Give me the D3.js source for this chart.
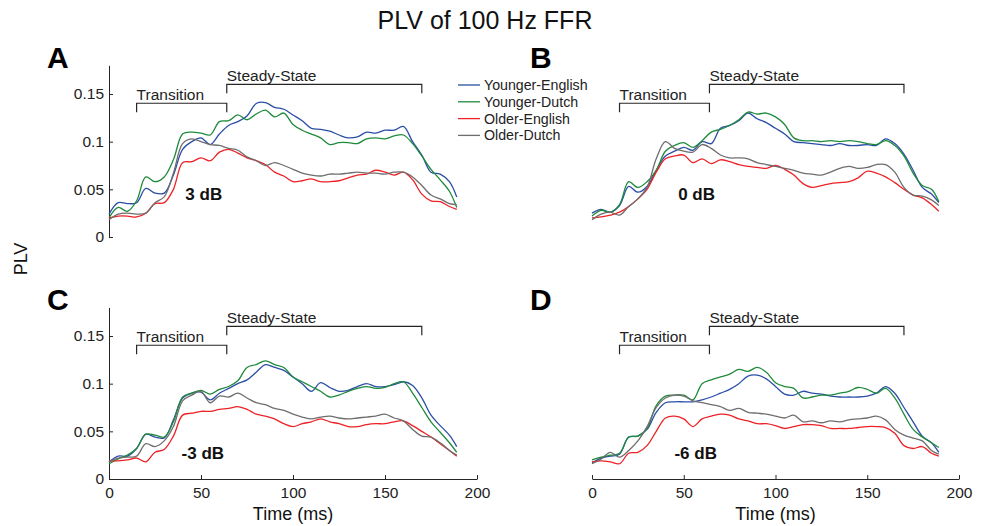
<!DOCTYPE html>
<html>
<head>
<meta charset="utf-8">
<script src="https://cdn.jsdelivr.net/npm/d3@7"></script>
<style>
  body { margin: 0; background: #fff; }
  svg { display: block; font-family: "Liberation Sans", Arial, Helvetica, sans-serif; }
</style>
</head>
<body>
<svg id="chart" width="985" height="526"></svg>
<script>
const time = [0, 5, 10, 15, 20, 25, 30, 35, 40, 45, 50, 55, 60, 65, 70, 75, 80, 85, 90, 95,
  100, 105, 110, 115, 120, 125, 130, 135, 140, 145, 150, 155, 160, 165, 170, 175, 180, 185, 189];

const groups = ['Younger-English', 'Younger-Dutch', 'Older-English', 'Older-Dutch'];
const groupColors = ['#2b4ea6', '#1f8a3c', '#ec2227', '#6e6e6e'];

const xTicks = [0, 50, 100, 150, 200];
const yTicks = [0, 0.05, 0.1, 0.15];

// 3 dB
const a_youngerEnglish = [0.024,0.036,0.035,0.036,0.051,0.046,0.046,0.065,0.092,0.100,0.104,0.097,0.108,0.117,0.121,0.127,0.140,0.141,0.136,0.134,0.128,0.122,0.114,0.113,0.111,0.107,0.104,0.105,0.110,0.109,0.112,0.112,0.116,0.100,0.086,0.068,0.066,0.058,0.042];
const a_youngerDutch = [0.020,0.031,0.027,0.038,0.063,0.058,0.063,0.081,0.108,0.110,0.109,0.107,0.121,0.122,0.128,0.123,0.129,0.133,0.126,0.130,0.118,0.112,0.108,0.104,0.097,0.099,0.099,0.098,0.103,0.104,0.103,0.106,0.107,0.098,0.085,0.071,0.060,0.048,0.031];
const a_olderEnglish = [0.020,0.022,0.022,0.021,0.025,0.035,0.036,0.050,0.078,0.079,0.083,0.080,0.089,0.092,0.088,0.083,0.080,0.076,0.068,0.064,0.058,0.059,0.061,0.058,0.058,0.059,0.062,0.065,0.066,0.070,0.068,0.065,0.068,0.060,0.045,0.038,0.037,0.032,0.029];
const a_olderDutch = [0.018,0.024,0.025,0.024,0.025,0.036,0.042,0.067,0.098,0.103,0.100,0.097,0.096,0.093,0.091,0.084,0.080,0.075,0.078,0.075,0.071,0.067,0.065,0.064,0.066,0.066,0.067,0.068,0.067,0.067,0.066,0.068,0.068,0.063,0.054,0.044,0.040,0.035,0.034];

// 0 dB
const b_youngerEnglish = [0.025,0.029,0.026,0.033,0.053,0.047,0.053,0.070,0.085,0.090,0.094,0.091,0.100,0.098,0.114,0.117,0.122,0.130,0.124,0.120,0.114,0.108,0.100,0.099,0.098,0.097,0.096,0.098,0.096,0.096,0.097,0.096,0.103,0.098,0.087,0.070,0.052,0.045,0.036];
const b_youngerDutch = [0.022,0.028,0.026,0.034,0.058,0.052,0.058,0.070,0.090,0.096,0.099,0.094,0.101,0.110,0.113,0.117,0.123,0.131,0.129,0.130,0.126,0.118,0.104,0.101,0.101,0.100,0.101,0.100,0.101,0.100,0.098,0.097,0.101,0.096,0.085,0.067,0.054,0.050,0.037];
const b_olderEnglish = [0.020,0.021,0.023,0.026,0.032,0.040,0.050,0.068,0.082,0.085,0.086,0.078,0.082,0.077,0.081,0.079,0.076,0.074,0.073,0.072,0.075,0.071,0.065,0.056,0.052,0.054,0.056,0.057,0.058,0.062,0.069,0.067,0.063,0.057,0.050,0.044,0.041,0.034,0.027];
const b_olderDutch = [0.018,0.024,0.026,0.023,0.032,0.040,0.052,0.082,0.100,0.093,0.090,0.089,0.097,0.093,0.086,0.083,0.083,0.082,0.078,0.076,0.074,0.072,0.070,0.067,0.066,0.065,0.068,0.072,0.074,0.072,0.073,0.076,0.076,0.068,0.052,0.044,0.043,0.039,0.033];

// -3 dB
const c_youngerEnglish = [0.018,0.024,0.024,0.032,0.047,0.044,0.043,0.062,0.085,0.090,0.091,0.083,0.090,0.095,0.100,0.104,0.112,0.120,0.117,0.114,0.107,0.100,0.092,0.101,0.096,0.092,0.093,0.097,0.100,0.097,0.097,0.099,0.102,0.098,0.085,0.067,0.056,0.046,0.034];
const c_youngerDutch = [0.016,0.021,0.025,0.032,0.047,0.046,0.044,0.060,0.086,0.090,0.093,0.089,0.094,0.097,0.103,0.117,0.120,0.124,0.120,0.117,0.107,0.102,0.097,0.092,0.086,0.088,0.092,0.095,0.097,0.095,0.096,0.100,0.102,0.090,0.075,0.060,0.049,0.038,0.028];
const c_olderEnglish = [0.019,0.019,0.020,0.022,0.018,0.028,0.031,0.045,0.067,0.069,0.071,0.071,0.073,0.074,0.076,0.073,0.068,0.066,0.063,0.058,0.055,0.058,0.060,0.063,0.060,0.058,0.055,0.055,0.057,0.058,0.058,0.060,0.061,0.056,0.050,0.044,0.037,0.030,0.024];
const c_olderDutch = [0.018,0.022,0.023,0.024,0.037,0.034,0.040,0.055,0.082,0.088,0.092,0.080,0.087,0.086,0.090,0.085,0.080,0.078,0.074,0.072,0.068,0.065,0.063,0.065,0.066,0.064,0.063,0.064,0.065,0.066,0.068,0.064,0.061,0.052,0.045,0.044,0.038,0.030,0.025];

// -6 dB
const d_youngerEnglish = [0.017,0.022,0.024,0.026,0.044,0.045,0.052,0.070,0.080,0.081,0.081,0.081,0.083,0.086,0.090,0.094,0.100,0.108,0.109,0.105,0.097,0.089,0.088,0.092,0.090,0.089,0.087,0.086,0.086,0.086,0.087,0.090,0.097,0.090,0.075,0.060,0.045,0.038,0.028];
const d_youngerDutch = [0.020,0.023,0.025,0.027,0.044,0.045,0.053,0.077,0.087,0.088,0.088,0.083,0.100,0.104,0.107,0.110,0.115,0.113,0.117,0.112,0.101,0.097,0.095,0.085,0.086,0.088,0.088,0.090,0.092,0.096,0.094,0.090,0.095,0.085,0.068,0.052,0.044,0.038,0.033];
const d_olderEnglish = [0.018,0.019,0.018,0.016,0.027,0.028,0.035,0.050,0.064,0.066,0.063,0.055,0.063,0.066,0.068,0.067,0.063,0.061,0.058,0.058,0.056,0.053,0.055,0.057,0.057,0.056,0.053,0.053,0.053,0.054,0.055,0.055,0.054,0.048,0.035,0.032,0.034,0.027,0.024];
const d_olderDutch = [0.016,0.021,0.028,0.023,0.030,0.040,0.055,0.075,0.085,0.088,0.087,0.082,0.080,0.078,0.076,0.072,0.074,0.070,0.069,0.068,0.066,0.064,0.067,0.060,0.061,0.059,0.061,0.060,0.062,0.063,0.064,0.066,0.062,0.052,0.046,0.043,0.040,0.030,0.026];

// analysis windows (ms)
const transitionWin = [15, 64];
const steadyWin = [64, 170];

const FONT = '"Liberation Sans", Arial, Helvetica, sans-serif';
const INK = '#262626';

const svg = d3.select('#chart');

const panels = [
  { letter: 'A', snr: '3 dB', series: [a_youngerEnglish, a_youngerDutch, a_olderEnglish, a_olderDutch],
    x0: 109, x1: 477, y0: 237, showX: false, showY: true, legend: true, snrAt: [51.5, 0.039] },
  { letter: 'B', snr: '0 dB', series: [b_youngerEnglish, b_youngerDutch, b_olderEnglish, b_olderDutch],
    x0: 592, x1: 959, y0: 237, showX: false, showY: false, legend: false, snrAt: [57, 0.039] },
  { letter: 'C', snr: '-3 dB', series: [c_youngerEnglish, c_youngerDutch, c_olderEnglish, c_olderDutch],
    x0: 109, x1: 477, y0: 479, showX: true, showY: true, legend: false, snrAt: [51, 0.021] },
  { letter: 'D', snr: '-6 dB', series: [d_youngerEnglish, d_youngerDutch, d_olderEnglish, d_olderDutch],
    x0: 592, x1: 959, y0: 479, showX: true, showY: false, legend: false, snrAt: [56.5, 0.021] }
];

svg.append('text')
  .attr('x', 485).attr('y', 29)
  .attr('text-anchor', 'middle')
  .style('font-size', '25px')
  .style('fill', '#111')
  .text('PLV of 100 Hz FFR');

svg.append('text')
  .attr('transform', 'translate(27,259) rotate(-90)')
  .attr('text-anchor', 'middle')
  .style('font-size', '18px')
  .style('fill', '#111')
  .text('PLV');

panels.forEach(p => {
  const x = d3.scaleLinear().domain([0, 200]).range([p.x0, p.x1]);
  const y = d3.scaleLinear().domain([0, 0.18]).range([p.y0, p.y0 - 171.6]);
  const g = svg.append('g');

  if (p.showY) {
    const ay = g.append('g')
      .attr('transform', `translate(${p.x0},0)`)
      .call(d3.axisLeft(y).tickValues(yTicks).tickSizeInner(-4).tickSizeOuter(0).tickPadding(5)
        .tickFormat(d => String(d)));
    ay.select('.domain').attr('stroke', INK);
    ay.selectAll('.tick line').attr('stroke', INK);
    ay.selectAll('text').style('font-size', '15.5px').style('font-family', FONT).attr('fill', '#222');
  }
  if (p.showX) {
    const ax = g.append('g')
      .attr('transform', `translate(0,${p.y0})`)
      .call(d3.axisBottom(x).tickValues(xTicks).tickSizeInner(-4).tickSizeOuter(0).tickPadding(8));
    ax.select('.domain').attr('stroke', INK);
    ax.selectAll('.tick line').attr('stroke', INK);
    ax.selectAll('text').style('font-size', '15.5px').style('font-family', FONT).attr('fill', '#222');

    g.append('text')
      .attr('x', (p.x0 + p.x1) / 2).attr('y', p.y0 + 41)
      .attr('text-anchor', 'middle')
      .style('font-size', '18px')
      .style('fill', '#111')
      .text('Time (ms)');
  }

  // brackets
  const bracket = (win, yv, label) => {
    const yb = y(yv), drop = 9;
    g.append('path')
      .attr('d', `M${x(win[0])},${yb + drop}V${yb}H${x(win[1])}V${yb + drop}`)
      .attr('fill', 'none').attr('stroke', INK).attr('stroke-width', 1.2);
    g.append('text')
      .attr('x', x(win[0])).attr('y', yb - 3)
      .style('font-size', '15.5px').style('fill', '#222')
      .text(label);
  };
  bracket(transitionWin, 0.1403, 'Transition');
  bracket(steadyWin, 0.1602, 'Steady-State');

  const line = d3.line()
    .x((d, i) => x(time[i]))
    .y(d => y(d))
    .curve(d3.curveCatmullRom.alpha(0.5));

  p.series.forEach((s, k) => {
    g.append('path')
      .datum(s)
      .attr('d', line)
      .attr('fill', 'none')
      .attr('stroke', groupColors[k])
      .attr('stroke-width', 1.3);
  });

  g.append('text')
    .attr('x', x(p.snrAt[0])).attr('y', y(p.snrAt[1]))
    .attr('text-anchor', 'middle')
    .style('font-size', '17px').style('font-weight', 'bold').style('fill', '#111')
    .text(p.snr);

  svg.append('text')
    .attr('x', p.x0 - 62).attr('y', p.y0 - 169)
    .style('font-size', '30px').style('font-weight', 'bold').style('fill', '#000')
    .text(p.letter);

  if (p.legend) {
    const lg = svg.append('g').attr('transform', 'translate(458,85)');
    groups.forEach((name, k) => {
      const row = lg.append('g').attr('transform', `translate(0,${k * 16.8})`);
      row.append('line').attr('x1', 0).attr('x2', 22).attr('y1', 0).attr('y2', 0)
        .attr('stroke', groupColors[k]).attr('stroke-width', 1.3);
      row.append('text').attr('x', 26).attr('y', 0).attr('dy', '0.35em')
        .style('font-size', '14.2px').style('fill', '#222')
        .text(name);
    });
  }
});
</script>
</body>
</html>
